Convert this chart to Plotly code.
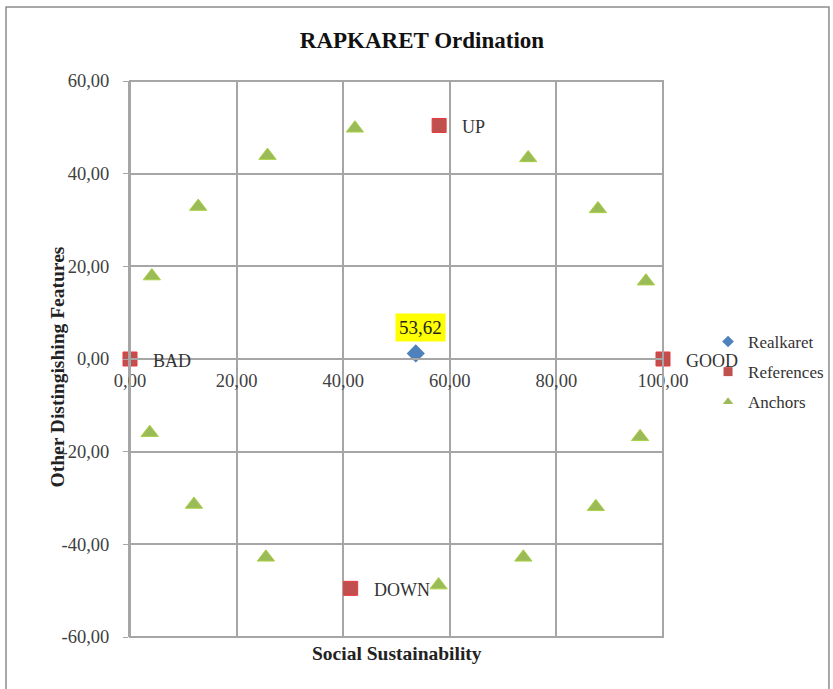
import plotly.graph_objects as go

# Realkaret position on the ordination
real_x = [53.62]
real_y = [1.2]

# Reference points (extremes of the scale)
ref_names = ["BAD", "GOOD", "UP", "DOWN"]
ref_x = [0.0, 100.0, 58.0, 41.4]
ref_y = [0.0, 0.0, 50.4, -49.5]

# Anchor points around the ordination
anchor_x = [4.1, 12.8, 25.8, 42.2, 74.7, 87.8, 96.8, 95.7, 87.4, 73.8, 57.9, 25.5, 12.0, 3.7]
anchor_y = [17.9, 32.9, 43.9, 49.8, 43.4, 32.4, 16.8, -16.8, -31.9, -42.8, -48.8, -42.8, -31.4, -15.9]

x_ticks = [0, 20, 40, 60, 80, 100]
y_ticks = [-60, -40, -20, 0, 20, 40, 60]


def fmt(v):
    return f"{v:.2f}".replace(".", ",")


SERIF = "Liberation Serif, Times New Roman, serif"
GRID = "#A6A6A6"
BLUE = "#4F81BD"
RED = "#C0504D"
GREEN = "#9BBB59"

fig = go.Figure()

fig.add_trace(go.Scatter(
    x=anchor_x, y=anchor_y, mode="markers", name="Anchors", showlegend=False,
    cliponaxis=False,
    marker=dict(symbol="triangle-up", size=15, color=GREEN,
                line=dict(color="#A8D040", width=1)),
))
fig.add_trace(go.Scatter(
    x=ref_x, y=ref_y, mode="markers", name="References", showlegend=False,
    cliponaxis=False,
    marker=dict(symbol="square", size=14, color=RED,
                line=dict(color="#E8393C", width=1)),
))
fig.add_trace(go.Scatter(
    x=real_x, y=real_y, mode="markers", name="Realkaret", showlegend=False,
    cliponaxis=False,
    marker=dict(symbol="diamond", size=14, color=BLUE),
))

# Small legend entries
for i, (nm, sym, col) in enumerate([("Realkaret", "diamond", BLUE),
                                    ("References", "square", RED),
                                    ("Anchors", "triangle-up", GREEN)]):
    fig.add_trace(go.Scatter(
        x=[None], y=[None], mode="markers", name=nm, legendgroup=f"g{i}",
        marker=dict(symbol=sym, size=9, color=col),
    ))

# Labels for the reference points
for nm, xv, yv in zip(ref_names, ref_x, ref_y):
    fig.add_annotation(x=xv, y=yv, text=nm, showarrow=False, xanchor="left",
                       xshift=21, yshift=-2,
                       font=dict(family=SERIF, size=18, color="#333333"))

# Value label for Realkaret
fig.add_annotation(x=real_x[0], y=real_y[0], text=fmt(real_x[0]), showarrow=False,
                   yshift=26, xshift=5, bgcolor="#FFFF00", borderpad=3,
                   font=dict(family=SERIF, size=19, color="#222222"))

# Axis titles
fig.add_annotation(xref="paper", yref="paper", x=0.5, y=-0.029, yanchor="middle",
                   text="<b>Social Sustainability</b>", showarrow=False,
                   font=dict(family=SERIF, size=19.5, color="#222222"))
fig.add_annotation(xref="paper", yref="paper", x=-0.1595, y=0.4856,
                   text="<b>Other Distingishing Features</b>", showarrow=False,
                   textangle=-90, font=dict(family=SERIF, size=19.5, color="#222222"))

# Plot-area frame and outer chart border
fig.add_shape(type="rect", xref="x domain", yref="y domain", x0=0, x1=1, y0=0, y1=1,
              line=dict(color=GRID, width=2))
fig.add_shape(type="rect", xref="paper", yref="paper", x0=-0.2326, x1=1.3114,
              y0=-0.12, y1=1.1331, line=dict(color="#8C8C8C", width=1.5), layer="below")

fig.update_layout(
    width=833, height=689,
    margin=dict(l=130, r=170, t=81, b=52, autoexpand=False),
    paper_bgcolor="white", plot_bgcolor="white",
    title=dict(text="<b>RAPKARET Ordination</b>", xref="container", yref="container",
               x=0.5066, y=1 - 40 / 689, xanchor="center", yanchor="middle",
               font=dict(family=SERIF, size=23, color="#111111")),
    font=dict(family=SERIF, color="#404040"),
    legend=dict(x=1.0845, y=0.563, xanchor="left", yanchor="top",
                font=dict(family=SERIF, size=17, color="#333333"),
                tracegroupgap=5, traceorder="grouped", bgcolor="rgba(0,0,0,0)",
                itemwidth=30),
    showlegend=True,
)

fig.update_xaxes(
    range=[0, 100], tickvals=x_ticks, ticktext=[fmt(v) for v in x_ticks],
    showgrid=True, gridcolor=GRID, gridwidth=2, zeroline=False,
    anchor="free", position=0.5, showline=True, linecolor=GRID, linewidth=2,
    ticks="outside", ticklen=5, tickcolor=GRID,
    tickfont=dict(family=SERIF, size=18.5, color="#404040"),
)
fig.update_yaxes(
    range=[-60, 60], tickvals=y_ticks, ticktext=[fmt(v) for v in y_ticks],
    showgrid=True, gridcolor=GRID, gridwidth=2, zeroline=False,
    showline=True, linecolor=GRID, linewidth=2,
    ticks="outside", ticklen=5, tickcolor=GRID, ticklabelstandoff=10,
    tickfont=dict(family=SERIF, size=18.5, color="#404040"),
)

fig.write_html("out.html")
